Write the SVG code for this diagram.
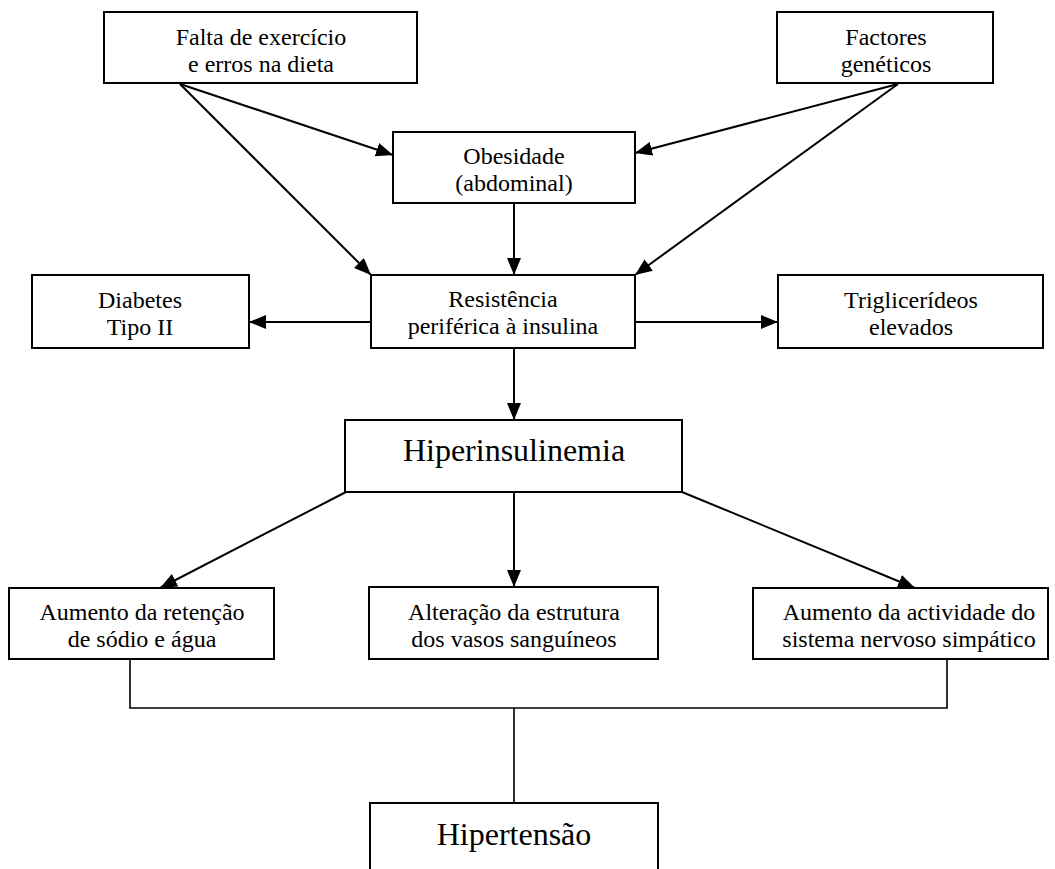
<svg xmlns="http://www.w3.org/2000/svg" width="1055" height="869" viewBox="0 0 1055 869">
<style>
.box{fill:#fff;stroke:#000;stroke-width:2}
.t{font-family:'Liberation Serif','Times New Roman','DejaVu Serif',serif;font-size:24px;text-anchor:middle;fill:#000}
.big{font-size:32px}
.c{stroke:#000;stroke-width:2;fill:none}
.a{marker-end:url(#ah)}
.thin{stroke-width:1.6}
</style>
<defs>
<marker id="ah" markerUnits="userSpaceOnUse" markerWidth="17" markerHeight="14" refX="17" refY="7" orient="auto">
<path d="M0,0 L17,7 L0,14 z" fill="#000"/>
</marker>
</defs>
<rect width="1055" height="869" fill="#fff"/>
<g id="connectors">
<line class="c a" x1="180" y1="84" x2="393" y2="155"/>
<line class="c a" x1="180" y1="84" x2="371" y2="275"/>
<line class="c a" x1="898" y1="84" x2="635" y2="153"/>
<line class="c a" x1="898" y1="84" x2="635" y2="275"/>
<line class="c a" x1="514" y1="203" x2="514" y2="275"/>
<line class="c a" x1="371" y1="322" x2="249" y2="322"/>
<line class="c a" x1="635" y1="322" x2="778" y2="322"/>
<line class="c a" x1="514" y1="348" x2="514" y2="420"/>
<line class="c a" x1="346" y1="492" x2="160" y2="588"/>
<line class="c a" x1="514" y1="492" x2="514" y2="587"/>
<line class="c a" x1="682" y1="492" x2="915" y2="588"/>
<polyline class="c thin" points="130,659 130,708 947,708 947,659"/>
<line class="c thin" x1="514" y1="708" x2="514" y2="803"/>
</g>
<g id="falta" font-family="Liberation Serif, serif">
<rect class="box" x="104" y="12" width="313" height="71"/>
<text class="t" x="261" y="45">Falta de exercício</text>
<text class="t" x="261" y="72">e erros na dieta</text>
</g>
<g id="factores">
<rect class="box" x="777" y="12" width="216" height="71"/>
<text class="t" x="886" y="45">Factores</text>
<text class="t" x="886" y="72">genéticos</text>
</g>
<g id="obesidade">
<rect class="box" x="393" y="132" width="242" height="71"/>
<text class="t" x="514" y="164">Obesidade</text>
<text class="t" x="514" y="191">(abdominal)</text>
</g>
<g id="resistencia">
<rect class="box" x="371" y="275" width="264" height="73"/>
<text class="t" x="503" y="307">Resistência</text>
<text class="t" x="503" y="334">periférica à insulina</text>
</g>
<g id="diabetes">
<rect class="box" x="32" y="275" width="217" height="73"/>
<text class="t" x="140" y="308">Diabetes</text>
<text class="t" x="140" y="335">Tipo II</text>
</g>
<g id="trigliceridos">
<rect class="box" x="778" y="275" width="265" height="73"/>
<text class="t" x="911" y="308">Triglicerídeos</text>
<text class="t" x="911" y="335">elevados</text>
</g>
<g id="hiperinsulinemia">
<rect class="box" x="345" y="420" width="337" height="72"/>
<text class="t big" x="514" y="461">Hiperinsulinemia</text>
</g>
<g id="sodio">
<rect class="box" x="9" y="588" width="265" height="71"/>
<text class="t" x="142" y="620">Aumento da retenção</text>
<text class="t" x="142" y="647">de sódio e água</text>
</g>
<g id="vasos">
<rect class="box" x="369" y="587" width="289" height="72"/>
<text class="t" x="514" y="620">Alteração da estrutura</text>
<text class="t" x="514" y="647">dos vasos sanguíneos</text>
</g>
<g id="simpatico">
<rect class="box" x="753" y="588" width="295" height="71"/>
<text class="t" x="909" y="620">Aumento da actividade do</text>
<text class="t" x="909" y="647">sistema nervoso simpático</text>
</g>
<g id="hipertensao">
<rect class="box" x="370" y="803" width="288" height="80"/>
<text class="t big" x="514" y="845">Hipertensão</text>
</g>
</svg>
